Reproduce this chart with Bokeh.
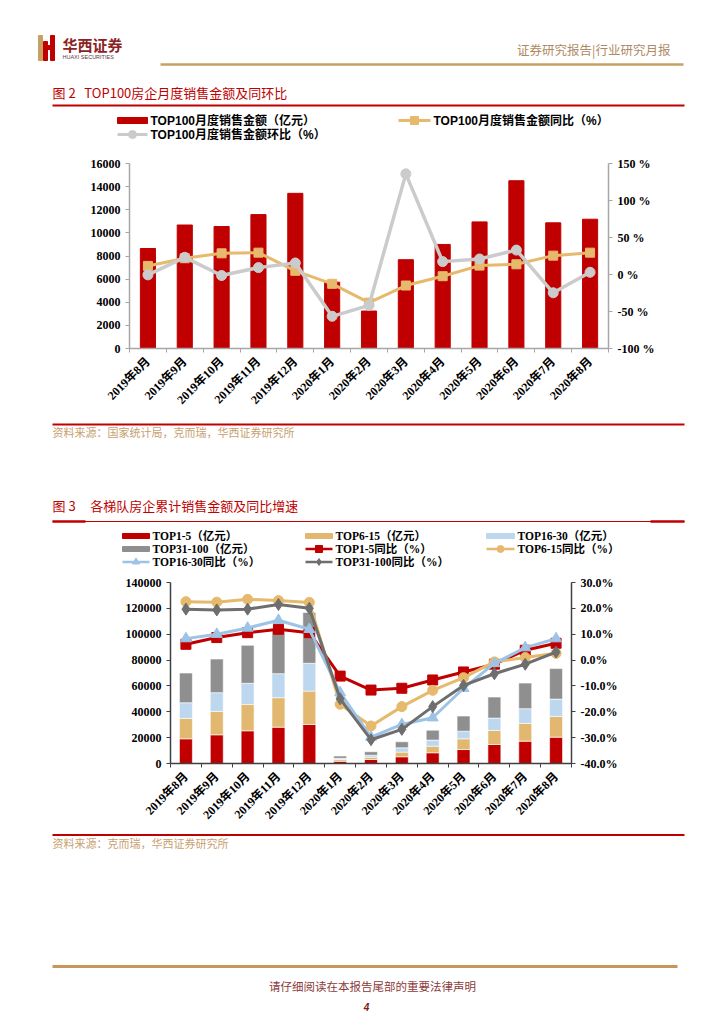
import math
from bokeh.plotting import figure
from bokeh.models import (Range1d, LinearAxis, FixedTicker, PrintfTickFormatter,
                          CustomJSTickFormatter, ColumnDataSource)
from bokeh.layouts import column
from bokeh.core.properties import value
from bokeh.embed import file_html
from bokeh.resources import INLINE

# ---------------- data ----------------
months = ["2019年8月", "2019年9月", "2019年10月", "2019年11月", "2019年12月",
          "2020年1月", "2020年2月", "2020年3月", "2020年4月", "2020年5月",
          "2020年6月", "2020年7月", "2020年8月"]

# Figure 2
top100_sales = [8650, 10680, 10550, 11580, 13420, 5740, 3240, 7680, 9000, 10950, 14510, 10870, 11180]
top100_yoy = [11.6, 22.0, 28.6, 29.5, 5.0, -12.6, -38.0, -14.9, -2.3, 12.0, 13.8, 25.5, 29.5]
top100_mom = [-0.5, 23.2, -1.4, 9.3, 15.6, -56.5, -41.7, 136.0, 17.4, 21.0, 33.0, -24.7, 3.0]
fig2_legend = ["TOP100月度销售金额（亿元）", "TOP100月度销售金额同比（%）", "TOP100月度销售金额环比（%）"]
fig2_left_ticks = [0, 2000, 4000, 6000, 8000, 10000, 12000, 14000, 16000]
fig2_right_ticks = [-100, -50, 0, 50, 100, 150]

# Figure 3
top1_5 = [19100, 22200, 25300, 28100, 30200, 1700, 3100, 5200, 8300, 10800, 14700, 17300, 20400]
top6_15 = [15800, 18100, 20400, 22800, 25800, 1300, 1800, 3600, 5100, 8300, 10900, 13700, 16000]
top16_30 = [12100, 14500, 16300, 18600, 21500, 1000, 1500, 3300, 4700, 5900, 9500, 11400, 13400]
top31_100 = [23000, 26000, 29400, 34000, 39300, 1800, 2700, 4700, 7700, 11700, 16300, 19800, 23600]
yoy1_5 = [6.1, 8.7, 10.6, 11.9, 10.6, -6.2, -11.6, -10.9, -7.7, -4.6, -1.6, 3.8, 6.5]
yoy6_15 = [22.6, 22.4, 23.5, 23.0, 22.3, -17.1, -25.5, -18.0, -11.7, -6.8, -0.7, 1.0, 2.6]
yoy16_30 = [8.3, 10.0, 12.4, 15.4, 11.9, -12.6, -29.8, -24.9, -22.3, -10.9, -1.3, 4.8, 8.3]
yoy31_100 = [19.7, 19.4, 19.7, 21.5, 20.0, -15.0, -30.8, -26.8, -18.0, -9.8, -5.3, -1.6, 3.1]
fig3_legend = ["TOP1-5（亿元）", "TOP6-15（亿元）", "TOP16-30（亿元）", "TOP31-100（亿元）",
               "TOP1-5同比（%）", "TOP6-15同比（%）", "TOP16-30同比（%）", "TOP31-100同比（%）"]
fig3_left_ticks = [0, 20000, 40000, 60000, 80000, 100000, 120000, 140000]
fig3_right_ticks = [-40, -30, -20, -10, 0, 10, 20, 30]

# ---------------- styles ----------------
CJK = "Noto Sans CJK SC"
SERIF = "Liberation Serif, Noto Sans CJK SC"
SANS = "Liberation Sans, Noto Sans CJK SC"
RED = "#C00000"
TAN_BAR = "#E2B870"
TAN_LINE = "#E6B96C"
LBLUE_BAR = "#BDD7EE"
LBLUE_LINE = "#9DC3E6"
GRAY_BAR = "#8F8F8F"
DGRAY_LINE = "#6E6E6E"
LGRAY_LINE = "#CBCBCB"
SRC = "#C8A070"
W = 716
NB = "\u00a0"

n = len(months)
xs = [i + 0.5 for i in range(n)]
bounds = list(range(n + 1))
xfmt_code = "const i = Math.floor(tick); return (i >= 0 && i < labels.length) ? labels[i] : '';"


def deco(top, bottom):
    p = figure(width=W, height=bottom - top, x_range=Range1d(0, W),
               y_range=Range1d(bottom, top), output_backend="svg",
               toolbar_location=None, x_axis_location=None, y_axis_location=None,
               min_border=0)
    p.grid.visible = False
    p.outline_line_color = None
    return p


def txt(p, x, y, s, size, color, font=CJK, style="normal", align="left"):
    p.text(x=[x], y=[y], text=[s], text_font=value(font), text_font_size=value(size),
           text_color=color, text_font_style=style, text_align=align,
           text_baseline="middle")


def hline(p, x0, x1, y, color, w):
    p.segment(x0=[x0], y0=[y], x1=[x1], y1=[y], line_color=color, line_width=w)


# ---------------- header + fig2 title/legend ----------------
pa = deco(1, 155)
pa.quad(left=[38], right=[42], top=[36], bottom=[61], color="#C9A063")
pa.quad(left=[43, 50, 43], right=[47, 54, 54], top=[42, 36, 46], bottom=[61, 61, 50], color=RED)
txt(pa, 62, 45, "华西证券", "15px", "#8B2323", style="bold")
txt(pa, 62, 57, "HUAXI SECURITIES", "5.5px", "#5A3A3A", font=SANS)
txt(pa, 670, 50, "证券研究报告|行业研究月报", "12.5px", "#B08A64", align="right")
hline(pa, 160, 683, 65, "#C9A063", 2.5)
txt(pa, 52, 93, "图" + NB + "2" + NB * 3 + "TOP100房企月度销售金额及同环比", "13px", RED)
hline(pa, 52, 684, 106, RED, 2)
# legend fig2
pa.rect(x=[132], y=[121], width=30, height=6, color=RED)
txt(pa, 150, 121, fig2_legend[0], "12px", "#000000", font=SANS, style="bold")
hline(pa, 398, 430, 121, TAN_LINE, 3)
pa.scatter(x=[414], y=[121], marker="square", size=8, color=TAN_LINE)
txt(pa, 433, 121, fig2_legend[1], "12px", "#000000", font=SANS, style="bold")
hline(pa, 117, 147, 135, LGRAY_LINE, 3)
pa.scatter(x=[132], y=[135], marker="circle", size=8, color=LGRAY_LINE)
txt(pa, 150, 135, fig2_legend[2], "12px", "#000000", font=SANS, style="bold")

# ---------------- chart fig2 ----------------
p1 = figure(width=W, height=260, x_range=Range1d(0, n), y_range=Range1d(0, 16000),
            output_backend="svg", toolbar_location=None,
            min_border_left=129, min_border_right=108, min_border_top=9, min_border_bottom=65)
p1.extra_y_ranges = {"pct": Range1d(-100, 150)}
p1.grid.visible = False
p1.outline_line_color = None
p1.vbar(x=xs, top=top100_sales, width=0.41, color=RED)
p1.line(xs, top100_yoy, y_range_name="pct", line_color=TAN_LINE, line_width=3)
p1.scatter(xs, top100_yoy, y_range_name="pct", marker="square", size=9, color=TAN_LINE)
p1.line(xs, top100_mom, y_range_name="pct", line_color=LGRAY_LINE, line_width=3.5)
p1.scatter(xs, top100_mom, y_range_name="pct", marker="circle", size=10, color=LGRAY_LINE)

ax = p1.yaxis[0]
ax.ticker = FixedTicker(ticks=fig2_left_ticks)
ax.formatter = PrintfTickFormatter(format="%d")
r1 = LinearAxis(y_range_name="pct", ticker=FixedTicker(ticks=fig2_right_ticks),
                formatter=PrintfTickFormatter(format="%d %%"))
p1.add_layout(r1, "right")
for a in [ax, r1]:
    a.axis_line_color = "#A6A6A6"
    a.axis_line_width = 1.5
    a.major_tick_line_color = "#A6A6A6"
    a.major_tick_in = 0
    a.major_tick_out = 4
    a.minor_tick_line_color = None
    a.major_label_text_font = SERIF
    a.major_label_text_font_style = "bold"
    a.major_label_text_font_size = "12px"
    a.major_label_text_color = "#000000"
bx = p1.xaxis[0]
bx.ticker = FixedTicker(ticks=xs, minor_ticks=bounds)
bx.formatter = CustomJSTickFormatter(args=dict(labels=months), code=xfmt_code)
bx.major_tick_line_color = None
bx.minor_tick_line_color = "#A6A6A6"
bx.minor_tick_in = 0
bx.minor_tick_out = 4
bx.axis_line_color = "#A6A6A6"
bx.axis_line_width = 1.5
bx.major_label_orientation = math.pi / 4
bx.major_label_text_font = SERIF
bx.major_label_text_font_style = "bold"
bx.major_label_text_font_size = "12px"
bx.major_label_text_color = "#000000"

# ---------------- source1 + fig3 title/legend ----------------
pc = deco(415, 573)
hline(pc, 52, 684, 425, RED, 2)
txt(pc, 52, 432.5, "资料来源：国家统计局，克而瑞，华西证券研究所", "11px", SRC)
txt(pc, 52, 506, "图" + NB + "3" + NB * 5 + "各梯队房企累计销售金额及同比增速", "13px", RED)
hline(pc, 52, 684, 522, RED, 1.2)
hline(pc, 52, 85, 522, RED, 2.5)
hline(pc, 650, 684, 522, RED, 2.5)
cols_sw = [(122, 149), (305, 332), (486, 514)]
rows_y = [536.5, 549.5, 562.5]
bar_cols = [RED, TAN_BAR, LBLUE_BAR, GRAY_BAR]
line_cols = [RED, TAN_LINE, LBLUE_LINE, DGRAY_LINE]
markers = ["square", "circle", "triangle", "diamond"]
for k, lab in enumerate(fig3_legend):
    r, c = divmod(k, 3)
    x0, x1 = cols_sw[c]
    yy = rows_y[r]
    if k < 4:
        pc.rect(x=[(x0 + x1) / 2], y=[yy], width=x1 - x0, height=5, color=bar_cols[k])
    else:
        j = k - 4
        hline(pc, x0, x1, yy, line_cols[j], 2.5)
        pc.scatter(x=[(x0 + x1) / 2], y=[yy], marker=markers[j], size=7, color=line_cols[j])
    txt(pc, x1 + 3, yy, lab, "11.5px", "#000000", font=SERIF, style="bold")

# ---------------- chart fig3 ----------------
p2 = figure(width=W, height=257, x_range=Range1d(0, n), y_range=Range1d(0, 140000),
            output_backend="svg", toolbar_location=None,
            min_border_left=170, min_border_right=145, min_border_top=10, min_border_bottom=66)
p2.extra_y_ranges = {"pct": Range1d(-40, 30)}
p2.grid.visible = False
p2.outline_line_color = None
src = ColumnDataSource(dict(x=xs, t1=top1_5, t2=top6_15, t3=top16_30, t4=top31_100))
p2.vbar_stack(["t1", "t2", "t3", "t4"], x="x", width=0.42, color=bar_cols,
              line_color="white", line_width=0.6, source=src)
for ys, colr, mk, sz in [(yoy1_5, RED, "square", 10), (yoy6_15, TAN_LINE, "circle", 10),
                         (yoy16_30, LBLUE_LINE, "triangle", 11), (yoy31_100, DGRAY_LINE, "diamond", 12)]:
    p2.line(xs, ys, y_range_name="pct", line_color=colr, line_width=3)
    p2.scatter(xs, ys, y_range_name="pct", marker=mk, size=sz, color=colr)

ax2 = p2.yaxis[0]
ax2.ticker = FixedTicker(ticks=fig3_left_ticks)
ax2.formatter = PrintfTickFormatter(format="%d")
r2 = LinearAxis(y_range_name="pct", ticker=FixedTicker(ticks=fig3_right_ticks),
                formatter=PrintfTickFormatter(format="%.1f%%"))
p2.add_layout(r2, "right")
for a in [ax2, r2]:
    a.axis_line_color = "#404040"
    a.axis_line_width = 1.5
    a.major_tick_line_color = "#404040"
    a.major_tick_in = 0
    a.major_tick_out = 4
    a.minor_tick_line_color = None
    a.major_label_text_font = SERIF
    a.major_label_text_font_style = "bold"
    a.major_label_text_font_size = "12px"
    a.major_label_text_color = "#000000"
bx2 = p2.xaxis[0]
bx2.ticker = FixedTicker(ticks=xs, minor_ticks=bounds)
bx2.formatter = CustomJSTickFormatter(args=dict(labels=months), code=xfmt_code)
bx2.major_tick_line_color = None
bx2.minor_tick_line_color = "#404040"
bx2.minor_tick_in = 0
bx2.minor_tick_out = 4
bx2.axis_line_color = "#404040"
bx2.axis_line_width = 1.5
bx2.major_label_orientation = math.pi / 4
bx2.major_label_text_font = SERIF
bx2.major_label_text_font_style = "bold"
bx2.major_label_text_font_size = "12px"
bx2.major_label_text_color = "#000000"

# ---------------- source2 + footer ----------------
pe = deco(830, 1016)
hline(pe, 52, 684, 835.5, RED, 2)
txt(pe, 52, 843.5, "资料来源：克而瑞，华西证券研究所", "11px", SRC)
hline(pe, 52, 677, 967, "#C9965A", 3)
txt(pe, 372, 986, "请仔细阅读在本报告尾部的重要法律声明", "11.5px", "#8B3A3A", align="center")
txt(pe, 366, 1007, "4", "10px", "#7A1F1F", font=SANS, style="bold italic", align="center")

# each figure wrapped in its own column so that frames are not aligned to each other
layout = column(column(pa), column(p1), column(pc), column(p2), column(pe), spacing=0)
open("out.html", "w").write(file_html(layout, INLINE))
